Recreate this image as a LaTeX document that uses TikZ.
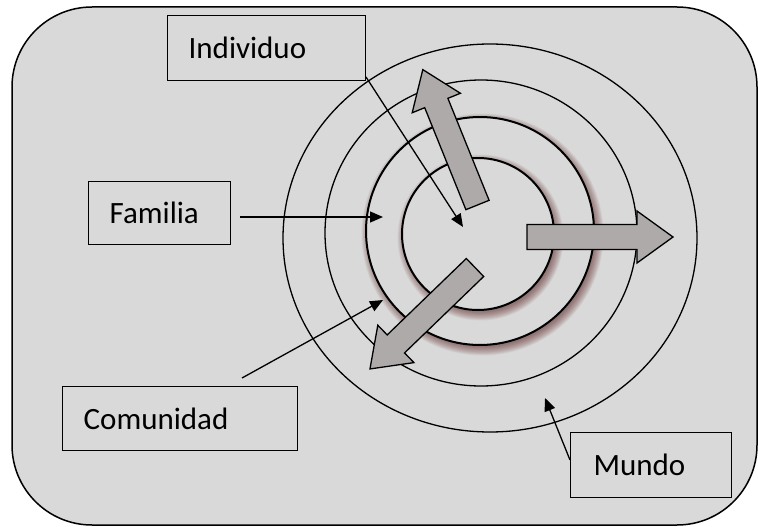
\documentclass[tikz,border=0pt]{standalone}
\usepackage{fontspec}
\setmainfont{Carlito}
\usetikzlibrary{arrows.meta,calc}
\definecolor{bg}{HTML}{D9D9D9}
\definecolor{arrowgray}{HTML}{AEAAAA}
\definecolor{shadowred}{HTML}{5A1E1E}
\tikzset{
  panel/.style={draw=black,line width=1.5pt,fill=bg,rounded corners=80pt},
  ring/.style={draw=black,line width=1.3pt},
  thickring/.style={draw=black,line width=2pt,fill=bg},
  softshade/.style={fill=shadowred,fill opacity=0.06},
  fatarrow/.style={draw=black,line width=1.3pt,fill=arrowgray,line join=miter},
  labelbox/.style={draw=black,line width=1.3pt,fill=bg,anchor=north west,
    inner xsep=21pt,inner ysep=0pt,align=left,
    font=\fontsize{31}{36}\selectfont},
  pointer/.style={draw=black,line width=1.3pt,-{Triangle[length=13pt,width=11pt]}}
}
\newcommand\fatarrowshape[3]{%
  \begin{scope}[shift={(#1)},rotate=#2]
    \draw[fatarrow] (0,-12.5) -- ({#3-36},-12.5) -- ({#3-36},-26) -- (#3,0)
      -- ({#3-36},26) -- ({#3-36},12.5) -- (0,12.5) -- cycle;
  \end{scope}}
\newcommand\shadedring[2]{%
  \foreach \k in {0,...,11}{
    \path[softshade] ($(#1)+(2.5,3.5)$) circle [radius={#2+7-\k*0.8}];
  }
  \path[thickring] (#1) circle [radius=#2];}
\begin{document}
\begin{tikzpicture}[x=1pt,y=-1pt]
\useasboundingbox (0,0) rectangle (758,527);
\path[panel] (12,7) rectangle (757,525);
% rings
\draw[ring] (490,238) ellipse [x radius=207pt, y radius=194pt];
\draw[ring] (481,233) ellipse [x radius=156pt, y radius=153pt];
\shadedring{480,231}{114pt}
\shadedring{478,234}{76pt}
% fat arrows
\fatarrowshape{527,237}{0}{146}
\fatarrowshape{477.5,205}{112}{146}
\fatarrowshape{475,267.5}{224}{146}
% label boxes
\node[labelbox,text width=156pt,minimum height=65pt] (ind) at (167,15) {Individuo};
\node[labelbox,text width=100pt,minimum height=63pt] (fam) at (88,181) {Familia};
\node[labelbox,text width=193pt,minimum height=64pt] (com) at (62,386) {Comunidad};
\node[labelbox,inner xsep=23pt,text width=115pt,minimum height=65pt] (mun) at (570,432) {Mundo};
% pointer coordinates
\coordinate (indstart) at (366,77);
\coordinate (indtip) at (463,227);
\coordinate (famstart) at (240,217);
\coordinate (famtip) at (383,217);
\coordinate (comstart) at (242,378);
\coordinate (comtip) at (383,300);
\coordinate (munstart) at (570,460);
\coordinate (muntip) at (545,398);
\draw[pointer] (indstart) -- (indtip);
\draw[pointer] (famstart) -- (famtip);
\draw[pointer] (comstart) -- (comtip);
\draw[pointer] (munstart) -- (muntip);
\end{tikzpicture}
\end{document}
